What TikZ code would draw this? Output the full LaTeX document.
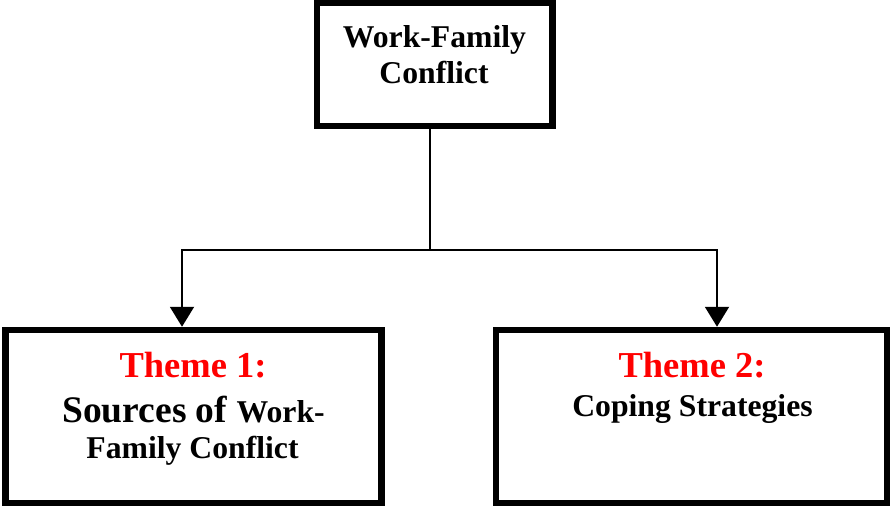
\documentclass[tikz,border=0pt]{standalone}
\usepackage{fontspec}
\setmainfont{Liberation Serif}
\usetikzlibrary{arrows.meta}
\tikzset{
  box/.style={draw=black, line width=6.5pt, fill=white, inner sep=0pt},
  conn/.style={draw=black, line width=2pt},
  tipstyle/.tip={Triangle[width=24pt,length=20pt]},
  big/.style={font=\bfseries\fontsize{31.7pt}{36pt}\selectfont, inner sep=0pt, anchor=base},
  theme/.style={font=\bfseries\fontsize{36.5pt}{40pt}\selectfont, text=red, inner sep=0pt, anchor=base},
}
\begin{document}
\begin{tikzpicture}[x=1pt,y=-1pt]
\useasboundingbox (0,0) rectangle (890,506);
\node[box, minimum width=235.5pt, minimum height=123pt] (top) at (434.75,64.5) {};
\node[box, minimum width=376pt, minimum height=173pt] (left) at (193.5,416.5) {};
\node[box, minimum width=391.5pt, minimum height=173pt] (right) at (691.75,416.5) {};
\node[big] (ta) at (434.5,47) {Work-Family};
\node[big] (tb) at (434,83) {Conflict};
\node[theme] (l1) at (193,377) {Theme 1:};
\node[big] (l2) at (193.5,422) {{\fontsize{37.5pt}{40pt}\selectfont Sources of }Work-};
\node[big] (l3) at (192.5,458) {Family Conflict};
\node[theme] (r1) at (692,377) {Theme 2:};
\node[big] (r2) at (692.5,416) {Coping Strategies};
\coordinate (j) at (430,250);
\coordinate (jl) at (182,250);
\coordinate (jr) at (717,250);
\draw[conn] (top.south -| j) -- (j);
\draw[conn, line cap=rect] (jl) -- (jr);
\draw[conn, -tipstyle] (jl) -- (left.north -| jl);
\draw[conn, -tipstyle] (jr) -- (right.north -| jr);
\end{tikzpicture}
\end{document}
